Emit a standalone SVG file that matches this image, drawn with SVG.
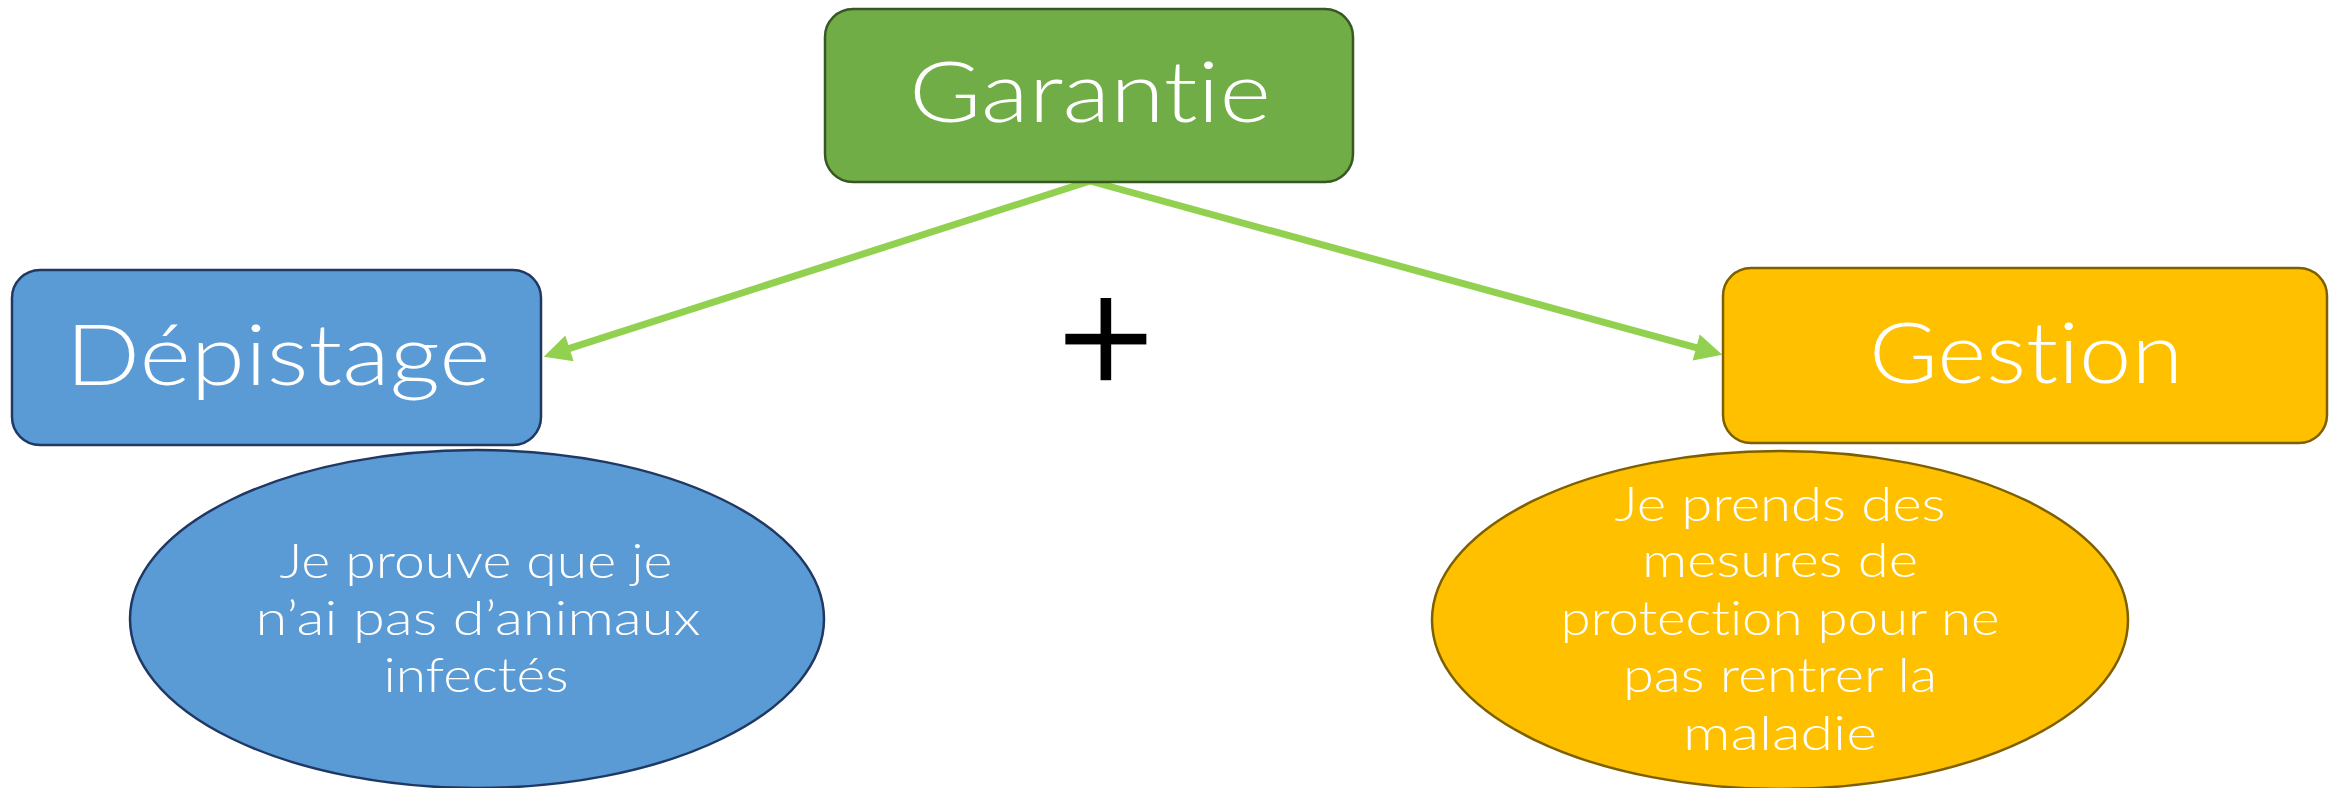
<svg xmlns="http://www.w3.org/2000/svg" width="2339" height="788" viewBox="0 0 2339 788">
<style>
.lbl{font-family:Lato,"Open Sans","Liberation Sans",sans-serif;font-weight:300;fill:#ffffff;text-anchor:middle;font-variant-ligatures:none;font-feature-settings:"liga" 0,"clig" 0,"dlig" 0}
.big{font-size:84px}
.small{font-size:48px}
.green{fill:#70AD47;stroke:#385723;stroke-width:2.5}
.blue{fill:#5B9BD5;stroke:#1F3864;stroke-width:2.5}
.gold{fill:#FFC000;stroke:#7F6000;stroke-width:2.5}
.conn{fill:none;stroke:#92D050;stroke-width:7}
</style>
<defs>
<marker id="arrow" markerUnits="userSpaceOnUse" markerWidth="30" markerHeight="27" viewBox="0 0 10 10" refX="6.6" refY="5" orient="auto">
<path d="M0,0 L10,5 L0,10 Z" fill="#92D050"/>
</marker>
</defs>
<rect width="2339" height="788" fill="#ffffff"/>
<g id="connectors">
<path class="conn" d="M1090,181 L552.5,353.9" marker-end="url(#arrow)"/>
<path class="conn" d="M1090,181 L1713.4,352.3" marker-end="url(#arrow)"/>
</g>
<g id="garantie">
<rect class="green" x="825" y="9" width="528" height="173" rx="28" ry="28"/>
<text class="lbl big" x="1090" y="122" textLength="362" lengthAdjust="spacingAndGlyphs">Garantie</text>
</g>
<g id="depistage">
<rect class="blue" x="12" y="270" width="529" height="175" rx="28" ry="28"/>
<text class="lbl big" x="278" y="385" textLength="425" lengthAdjust="spacingAndGlyphs">Dépistage</text>
</g>
<g id="gestion">
<rect class="gold" x="1723" y="268" width="604" height="175" rx="28" ry="28"/>
<text class="lbl big" x="2026" y="383" textLength="314" lengthAdjust="spacingAndGlyphs">Gestion</text>
</g>
<g id="plus">
<text x="1106" y="396" font-family="Liberation Sans,Arial,sans-serif" font-size="170" font-weight="300" text-anchor="middle" fill="#000000" stroke="#ffffff" stroke-width="1.5">+</text>
</g>
<g id="depistage-desc">
<ellipse class="blue" cx="477" cy="619" rx="347" ry="169"/>
<text class="lbl small" x="476" y="578" textLength="393" lengthAdjust="spacingAndGlyphs">Je prouve que je</text>
<text class="lbl small" x="478" y="635" textLength="445" lengthAdjust="spacingAndGlyphs">n’ai pas d’animaux</text>
<text class="lbl small" x="476" y="692" textLength="185" lengthAdjust="spacingAndGlyphs">infectés</text>
</g>
<g id="gestion-desc">
<ellipse class="gold" cx="1780" cy="620" rx="348" ry="169"/>
<text class="lbl small" x="1780" y="521" textLength="331" lengthAdjust="spacingAndGlyphs">Je prends des</text>
<text class="lbl small" x="1780" y="577" textLength="276" lengthAdjust="spacingAndGlyphs">mesures de</text>
<text class="lbl small" x="1780" y="635" textLength="439" lengthAdjust="spacingAndGlyphs">protection pour ne</text>
<text class="lbl small" x="1780" y="692" textLength="314" lengthAdjust="spacingAndGlyphs">pas rentrer la</text>
<text class="lbl small" x="1780" y="750" textLength="194" lengthAdjust="spacingAndGlyphs">maladie</text>
</g>
</svg>
